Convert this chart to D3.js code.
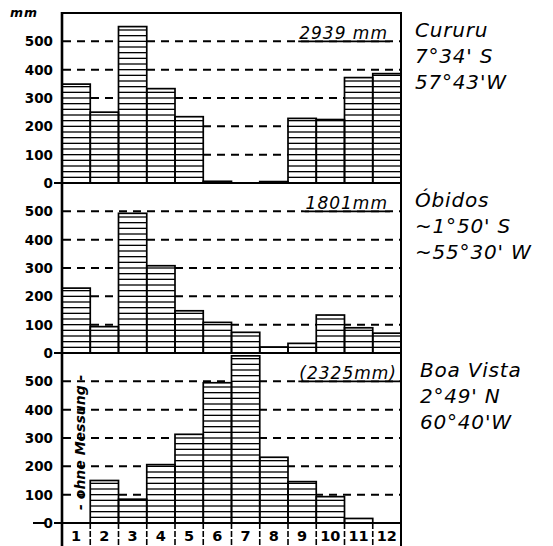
<!DOCTYPE html>
<html>
<head>
<meta charset="utf-8">
<script src="https://cdn.jsdelivr.net/npm/d3@7/dist/d3.min.js"></script>
<style>
  html, body { margin: 0; padding: 0; background: #fff; }
  svg { display: block; }
</style>
</head>
<body>
<script>
// ---- data ----
const months = ["1","2","3","4","5","6","7","8","9","10","11","12"];
const yTicks = [0, 100, 200, 300, 400, 500];
const cururu   = [349, 250, 552, 333, 234, 6, 0, 5, 228, 224, 372, 386];
const obidos   = [229, 93, 493, 308, 149, 108, 73, 21, 34, 134, 89, 70];
const boaVista = [null, 150, 84, 206, 313, 495, 590, 232, 146, 93, 16, 0];
const stations = ["Cururu", "Óbidos", "Boa Vista"];
const latitudes = ["7°34' S", "~1°50' S", "2°49' N"];
const longitudes = ["57°43'W", "~55°30' W", "60°40'W"];
const totals = ["2939 mm", "1801mm", "(2325mm)"];
const noData = "- ohne Messung -";
const unit = "mm";

// ---- layout ----
const W = 553, H = 546;
const X0 = 62, X1 = 401;
const panelTops = [13, 183, 353];
const panelH = 170;
const series = [cururu, obidos, boaVista];
const totalEnd = [388, 388, 397];
const textX = [415, 415, 420];

const svg = d3.select("body").append("svg").attr("width", W).attr("height", H);

const x = d3.scaleBand().domain(months).range([X0, X1]).paddingInner(0).paddingOuter(0);

const font = "'DejaVu Sans', sans-serif";

series.forEach((vals, p) => {
  const top = panelTops[p];
  const y = d3.scaleLinear().domain([0, 600]).range([top + panelH, top]);
  const g = svg.append("g");

  // dashed gridlines
  g.selectAll("line.grid").data(yTicks.filter(t => t > 0)).enter().append("line")
    .attr("x1", X0 + 1).attr("x2", X1)
    .attr("y1", d => y(d)).attr("y2", d => y(d))
    .attr("stroke", "#000").attr("stroke-width", 2)
    .attr("stroke-dasharray", "8 6");

  // bars
  const bars = months.map((m, i) => ({ m, v: vals[i] })).filter(d => d.v != null && d.v > 0);
  g.selectAll("rect.bar").data(bars).enter().append("rect")
    .attr("x", d => x(d.m)).attr("width", x.bandwidth())
    .attr("y", d => y(d.v)).attr("height", d => y(0) - y(d.v))
    .attr("fill", "#fff");

  // hatching
  bars.forEach(d => {
    const levels = d3.range(20, d.v, 20);
    g.selectAll(null).data(levels).enter().append("line")
      .attr("x1", x(d.m)).attr("x2", x(d.m) + x.bandwidth())
      .attr("y1", l => y(l)).attr("y2", l => y(l))
      .attr("stroke", "#000").attr("stroke-width", 1.3);
  });

  g.selectAll("rect.outline").data(bars).enter().append("rect")
    .attr("x", d => x(d.m)).attr("width", x.bandwidth())
    .attr("y", d => y(d.v)).attr("height", d => y(0) - y(d.v))
    .attr("fill", "none").attr("stroke", "#000").attr("stroke-width", 1.7);

  // y labels
  g.selectAll("text.ylab").data(yTicks).enter().append("text")
    .attr("x", 53).attr("y", d => y(d) + 5)
    .attr("text-anchor", "end")
    .attr("font-family", font).attr("font-weight", "bold").attr("font-size", 13.5)
    .text(d => d);

  // zero tick
  g.append("line").attr("x1", 54).attr("x2", X0).attr("y1", y(0)).attr("y2", y(0))
    .attr("stroke", "#000").attr("stroke-width", 2);

  // zero line / panel separator
  g.append("line").attr("x1", X0).attr("x2", X1).attr("y1", y(0)).attr("y2", y(0))
    .attr("stroke", "#000").attr("stroke-width", 2.2);

  // total label
  const t = g.append("text")
    .attr("x", totalEnd[p]).attr("y", y(500) - 2)
    .attr("text-anchor", "end")
    .attr("font-family", font).attr("font-style", "italic").attr("font-size", 17)
    .attr("letter-spacing", 1)
    .text(totals[p]);
  const bb = t.node().getBBox();
  g.insert("rect", "text").attr("x", bb.x - 2).attr("y", bb.y).attr("width", bb.width + 4).attr("height", y(500) - bb.y - 1)
    .attr("fill", "#fff");
  g.append("line").attr("x1", bb.x - 1).attr("x2", bb.x + bb.width + 2)
    .attr("y1", y(500)).attr("y2", y(500)).attr("stroke", "#000").attr("stroke-width", 1.8);

  // station text
  const st = svg.append("text").attr("font-family", font).attr("font-style", "italic")
    .attr("font-size", 20).attr("letter-spacing", 0.8);
  [stations[p], latitudes[p], longitudes[p]].forEach((s, k) => {
    st.append("tspan").attr("x", textX[p]).attr("y", top + 24 + k * 26).text(s);
  });
});

// bottom panel extras
{
  const y3 = d3.scaleLinear().domain([0, 600]).range([panelTops[2] + panelH, panelTops[2]]);
  svg.append("line").attr("x1", 33).attr("x2", 46).attr("y1", y3(0)).attr("y2", y3(0))
    .attr("stroke", "#000").attr("stroke-width", 2);
  const cx = x("1") + x.bandwidth() / 2 + 9;
  svg.append("text")
    .attr("transform", `translate(${cx},${y3(285)}) rotate(-90)`)
    .attr("text-anchor", "middle")
    .attr("font-family", font).attr("font-style", "italic").attr("font-weight", "bold")
    .attr("font-size", 14)
    .text(noData);
}

// month label row
const rowTop = panelTops[2] + panelH;
svg.selectAll("line.sep").data(months.slice(1)).enter().append("line")
  .attr("x1", d => x(d)).attr("x2", d => x(d))
  .attr("y1", rowTop).attr("y2", H)
  .attr("stroke", "#000").attr("stroke-width", 1.6).attr("stroke-dasharray", "6 2");
svg.selectAll("text.month").data(months).enter().append("text")
  .attr("x", d => x(d) + x.bandwidth() / 2).attr("y", 541)
  .attr("text-anchor", "middle")
  .attr("font-family", font).attr("font-weight", "bold").attr("font-size", 14.5)
  .text(d => d);

// frame
svg.append("line").attr("x1", X0).attr("x2", X0).attr("y1", panelTops[0] - 1).attr("y2", H)
  .attr("stroke", "#000").attr("stroke-width", 2.6);
svg.append("line").attr("x1", X1).attr("x2", X1).attr("y1", panelTops[0] - 1).attr("y2", H)
  .attr("stroke", "#000").attr("stroke-width", 2);
svg.append("line").attr("x1", X0).attr("x2", X1).attr("y1", panelTops[0]).attr("y2", panelTops[0])
  .attr("stroke", "#000").attr("stroke-width", 2);

// unit
svg.append("text").attr("x", 10).attr("y", 17)
  .attr("font-family", font).attr("font-style", "italic").attr("font-weight", "bold")
  .attr("font-size", 12.5).attr("letter-spacing", 1)
  .text(unit);
</script>
</body>
</html>
